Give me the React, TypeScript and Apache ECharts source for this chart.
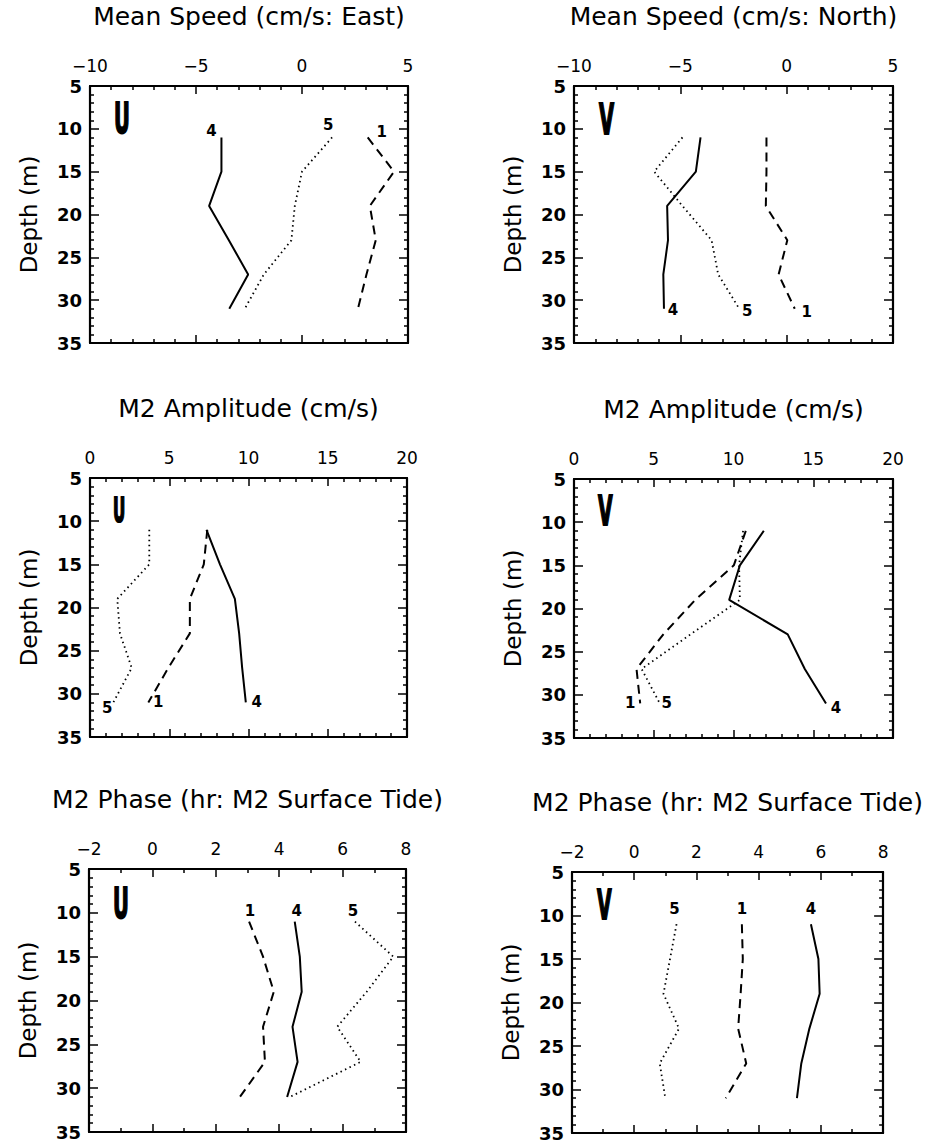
import React, { useEffect, useRef } from "react";
import * as echarts from "echarts";

// ---- data ----
const depths = [11, 15, 19, 23, 27, 31];

// Mean speed, East (U)
const meanU_1 = [3.1, 4.34, 3.2, 3.48, 3.04, 2.64];
const meanU_4 = [-3.8, -3.8, -4.38, -3.45, -2.54, -3.43];
const meanU_5 = [1.42, 0.0, -0.34, -0.5, -1.8, -2.7];

// Mean speed, North (V)
const meanV_1 = [-0.95, -0.95, -0.98, 0.03, -0.38, 0.38];
const meanV_4 = [-4.05, -4.27, -5.62, -5.58, -5.8, -5.77];
const meanV_5 = [-4.9, -6.23, -4.9, -3.53, -3.22, -2.23];

// M2 amplitude (U)
const ampU_1 = [7.4, 7.18, 6.3, 6.3, 4.94, 3.68];
const ampU_4 = [7.35, 8.2, 9.14, 9.41, 9.6, 9.83];
const ampU_5 = [3.74, 3.74, 1.72, 1.89, 2.63, 1.47];

// M2 amplitude (V)
const ampV_1 = [10.77, 10.02, 7.6, 5.6, 3.92, 4.15];
const ampV_4 = [11.9, 10.4, 9.73, 13.4, 14.47, 15.8];
const ampV_5 = [10.6, 10.35, 10.4, 7.3, 4.24, 5.38];

// M2 phase (U)
const phaseU_1 = [3.05, 3.49, 3.83, 3.49, 3.55, 2.76];
const phaseU_4 = [4.49, 4.65, 4.71, 4.42, 4.58, 4.25];
const phaseU_5 = [6.39, 7.6, 6.76, 5.83, 6.57, 4.34];

// M2 phase (V)
const phaseV_1 = [3.46, 3.49, 3.42, 3.34, 3.6, 2.94];
const phaseV_4 = [5.68, 5.92, 5.96, 5.63, 5.37, 5.23];
const phaseV_5 = [1.36, 1.15, 0.94, 1.44, 0.82, 1.0];

const titles = [
  "Mean Speed (cm/s: East)",
  "Mean Speed (cm/s: North)",
  "M2 Amplitude (cm/s)",
  "M2 Amplitude (cm/s)",
  "M2 Phase (hr: M2 Surface Tide)",
  "M2 Phase (hr: M2 Surface Tide)",
];
const components = ["U", "V", "U", "V", "U", "V"];
const xRanges = [
  [-10, 5, 5],
  [-10, 5, 5],
  [0, 20, 5],
  [0, 20, 5],
  [-2, 8, 2],
  [-2, 8, 2],
];
const depthRange = [5, 35, 5];
const stationNames = ["1", "4", "5"];
const panelData = [
  [meanU_1, meanU_4, meanU_5],
  [meanV_1, meanV_4, meanV_5],
  [ampU_1, ampU_4, ampU_5],
  [ampV_1, ampV_4, ampV_5],
  [phaseU_1, phaseU_4, phaseU_5],
  [phaseV_1, phaseV_4, phaseV_5],
];

// ---- layout / style ----
const FONT = '"DejaVu Sans", sans-serif';
const grids = [
  { left: 90, top: 86, width: 318, height: 257 },
  { left: 574, top: 86, width: 319, height: 257 },
  { left: 90, top: 478, width: 317, height: 259 },
  { left: 574, top: 479, width: 319, height: 259 },
  { left: 89, top: 869, width: 317, height: 263 },
  { left: 572, top: 872, width: 321, height: 261 },
];
const minorSplits = [5, 5, 5, 5, 2, 2];
// label: [index of point, offsetX, offsetY] per station (1, 4, 5)
const labelPlaces = [
  [[0, 14, -5], [0, -10, -6], [0, -4, -12]],
  [[5, 12, 3], [5, 9, 1], [5, 8, 2]],
  [[5, 10, 0], [5, 11, 0], [5, -6, 6]],
  [[5, -10, 0], [5, 10, 5], [5, 7, 0]],
  [[0, 1, -11], [0, 2, -11], [0, -2, -11]],
  [[0, 0, -15], [0, 0, -15], [0, -2, -15]],
];
const lineTypes: any[] = [[9, 6], "solid", [1.5, 3.5]];
const uvPos = [
  [114, 97, 31],
  [599, 98, 31],
  [113, 494, 24],
  [598, 490, 30],
  [113, 882, 31],
  [597, 884, 30],
];

const minusFmt = (v: number) => String(v).replace("-", "\u2212");

function buildOption() {
  const xAxis: any[] = [];
  const yAxis: any[] = [];
  const series: any[] = [];
  const graphic: any[] = [];
  const tickStyle = { color: "#000", width: 1.5 };
  const axisLine = { show: true, onZero: false, lineStyle: { color: "#000", width: 2.2 } };

  grids.forEach((g, i) => {
    const [mn, mx, iv] = xRanges[i];
    xAxis.push({
      gridIndex: i,
      type: "value",
      position: "top",
      min: mn,
      max: mx,
      interval: iv,
      axisLine,
      axisTick: { show: true, inside: true, length: 8, lineStyle: tickStyle },
      minorTick: { show: true, splitNumber: minorSplits[i], length: 4, lineStyle: tickStyle },
      splitLine: { show: false },
      axisLabel: { margin: 12, fontSize: 17, color: "#000", fontFamily: FONT, formatter: minusFmt },
      name: titles[i],
      nameLocation: "middle",
      nameGap: 57,
      nameTextStyle: { fontSize: 25, color: "#000", fontFamily: FONT },
    });
    xAxis.push({
      gridIndex: i,
      type: "value",
      position: "bottom",
      min: mn,
      max: mx,
      interval: iv,
      axisLine,
      axisTick: { show: true, inside: true, length: 8, lineStyle: tickStyle },
      minorTick: { show: true, splitNumber: minorSplits[i], length: 4, lineStyle: tickStyle },
      splitLine: { show: false },
      axisLabel: { show: false },
    });
    yAxis.push({
      gridIndex: i,
      type: "value",
      position: "left",
      inverse: true,
      min: depthRange[0],
      max: depthRange[1],
      interval: depthRange[2],
      axisLine,
      axisTick: { show: true, inside: true, length: 9, lineStyle: tickStyle },
      minorTick: { show: true, splitNumber: 5, length: 4, lineStyle: tickStyle },
      splitLine: { show: false },
      axisLabel: { margin: 8, fontSize: 18, fontWeight: "bold", color: "#000", fontFamily: FONT },
      name: "Depth (m)",
      nameLocation: "middle",
      nameGap: 50,
      nameTextStyle: { fontSize: 23, color: "#000", fontFamily: FONT },
    });
    yAxis.push({
      gridIndex: i,
      type: "value",
      position: "right",
      inverse: true,
      min: depthRange[0],
      max: depthRange[1],
      interval: depthRange[2],
      axisLine,
      axisTick: { show: true, inside: true, length: 9, lineStyle: tickStyle },
      minorTick: { show: true, splitNumber: 5, length: 4, lineStyle: tickStyle },
      splitLine: { show: false },
      axisLabel: { show: false },
    });

    panelData[i].forEach((xs, k) => {
      const [li, ox, oy] = labelPlaces[i][k];
      const lt = lineTypes[k];
      series.push({
        type: "line",
        name: `${i}-${stationNames[k]}`,
        xAxisIndex: i * 2,
        yAxisIndex: i * 2,
        symbol: "none",
        showSymbol: true,
        silent: true,
        clip: false,
        lineStyle: { color: "#000", width: k === 2 ? 1.8 : 2, type: lt },
        itemStyle: { color: "#000" },
        data: xs.map((x, j) =>
          j === li
            ? {
                value: [x, depths[j]],
                symbol: "circle",
                symbolSize: 1,
                itemStyle: { color: "rgba(0,0,0,0)" },
                label: {
                  show: true,
                  position: "inside",
                  offset: [ox, oy],
                  formatter: stationNames[k],
                  color: "#000",
                  fontSize: 15,
                  fontWeight: "bold",
                  fontFamily: FONT,
                },
              }
            : [x, depths[j]]
        ),
      });
    });

    const [ux, uy, uh] = uvPos[i];
    const fs = uh / 0.73;
    graphic.push({
      type: "text",
      x: ux,
      y: uy,
      scaleX: 0.46,
      style: {
        text: components[i],
        font: `bold ${fs.toFixed(1)}px "DejaVu Sans"`,
        fill: "#000",
        stroke: "#000",
        lineWidth: 2,
        align: "left",
        verticalAlign: "top",
      },
    });
  });

  return {
    animation: false,
    backgroundColor: "#fff",
    grid: grids.map((g) => ({ ...g, containLabel: false })),
    xAxis,
    yAxis,
    series,
    graphic,
  };
}

export default function App() {
  const ref = useRef<HTMLDivElement>(null);
  useEffect(() => {
    if (!ref.current) return;
    const chart = echarts.init(ref.current, undefined, { renderer: "svg" });
    chart.setOption(buildOption() as any);
    return () => chart.dispose();
  }, []);
  return (
    <div
      ref={ref}
      style={{ position: "absolute", left: 0, top: 0, width: 925, height: 1148, background: "#fff" }}
    />
  );
}
